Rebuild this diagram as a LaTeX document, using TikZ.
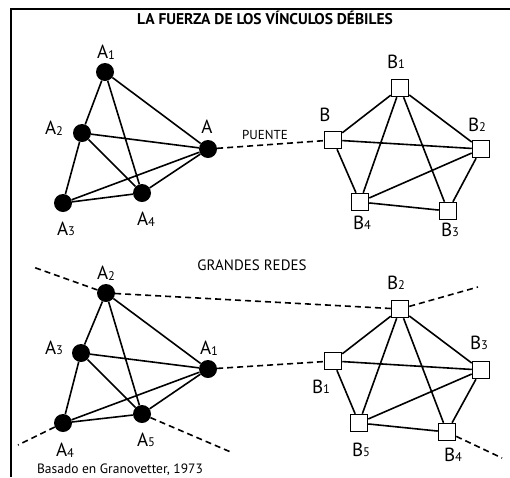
\documentclass[tikz,border=0pt]{standalone}
\usepackage{fontspec}
\setmainfont{PT Sans}
\begin{document}
\begin{tikzpicture}[x=1pt,y=-1pt,
  dotnode/.style={circle,fill=black,inner sep=0pt,minimum size=18pt},
  sqnode/.style={rectangle,draw=black,fill=white,line width=1.5pt,inner sep=0pt,minimum size=17pt},
  edge/.style={line width=1.6pt},
  weak/.style={line width=1.6pt,dash pattern=on 6pt off 4pt},
  lbl/.style={font=\fontsize{19}{19}\selectfont,inner sep=0pt},
  txt/.style={font=\fontsize{13}{13}\selectfont,inner sep=0pt}]
\useasboundingbox (0,0) rectangle (510,477);
\newcommand{\lab}[2]{#1\raisebox{-0.5pt}{\fontsize{12.5}{12.5}\selectfont #2}}
% frame
\coordinate (fl) at (11,477);
\coordinate (fc) at (11,9);
\coordinate (fr) at (510,9);
\draw[line width=2pt] (fl) -- (fc) -- (fr);
\node[font=\fontsize{15.5}{15.5}\selectfont\bfseries,inner sep=0pt] (title) at (265,18) {LA FUERZA DE LOS VÍNCULOS DÉBILES};
% ---------- top
\node[dotnode] (tA1) at (105,72) {};
\node[dotnode] (tA2) at (82,133) {};
\node[dotnode] (tA) at (208,149) {};
\node[dotnode] (tA3) at (63,203) {};
\node[dotnode] (tA4) at (142,193) {};
\draw[edge] (tA1)--(tA2) (tA1)--(tA) (tA1)--(tA4) (tA2)--(tA) (tA2)--(tA4) (tA2)--(tA3)
  (tA3)--(tA) (tA3)--(tA4) (tA4)--(tA);
\node[lbl] (ltA1) at (106,52) {\lab{A}{1}};
\node[lbl] (ltA2) at (54,128) {\lab{A}{2}};
\node[lbl] (ltA) at (207,127) {A};
\node[lbl] (ltA3) at (66,229) {\lab{A}{3}};
\node[lbl] (ltA4) at (146,219) {\lab{A}{4}};
\node[sqnode] (tB) at (333,140) {};
\draw[weak] (tA) -- (tB);
\node[txt] (puente) at (265,135) {PUENTE};
\node[sqnode] (tB1) at (400,88) {};
\node[sqnode] (tB2) at (481,149) {};
\node[sqnode] (tB4) at (360,202) {};
\node[sqnode] (tB3) at (448,211) {};
\draw[edge] (tB)--(tB1) (tB)--(tB2) (tB)--(tB4) (tB1)--(tB2) (tB1)--(tB4) (tB1)--(tB3)
  (tB2)--(tB4) (tB2)--(tB3) (tB4)--(tB3);
\node[lbl] (ltB1) at (396,62) {\lab{B}{1}};
\node[lbl] (ltB) at (325,115) {B};
\node[lbl] (ltB2) at (477,125) {\lab{B}{2}};
\node[lbl] (ltB4) at (362,223) {\lab{B}{4}};
\node[lbl] (ltB3) at (450,230) {\lab{B}{3}};
% ---------- bottom
\node[font=\fontsize{15}{15}\selectfont,inner sep=0pt] (grandes) at (252,265) {GRANDES REDES};
\node[dotnode] (bA2) at (106,293) {};
\node[dotnode] (bA3) at (81,353) {};
\node[dotnode] (bA1) at (208,369) {};
\node[dotnode] (bA4) at (63,423) {};
\node[dotnode] (bA5) at (142,414) {};
\draw[edge] (bA2)--(bA3) (bA2)--(bA1) (bA2)--(bA5) (bA3)--(bA1) (bA3)--(bA5) (bA3)--(bA4)
  (bA4)--(bA1) (bA4)--(bA5) (bA5)--(bA1);
\node[lbl] (lbA2) at (106,273) {\lab{A}{2}};
\node[lbl] (lbA3) at (54,348) {\lab{A}{3}};
\node[lbl] (lbA1) at (209,348) {\lab{A}{1}};
\node[lbl] (lbA4) at (65,450) {\lab{A}{4}};
\node[lbl] (lbA5) at (146,440) {\lab{A}{5}};
\node[sqnode] (bB2) at (400,309) {};
\node[sqnode] (bB1) at (333,361) {};
\node[sqnode] (bB3) at (481,370) {};
\node[sqnode] (bB5) at (359,423) {};
\node[sqnode] (bB4) at (447,432) {};
\coordinate (wA2) at (33,267);
\coordinate (wA4) at (18,445);
\coordinate (wA5) at (233,453);
\coordinate (wB2) at (478,287);
\coordinate (wB4) at (502,458);
\draw[weak] (bA2) -- (wA2);
\draw[weak] (bA4) -- (wA4);
\draw[weak] (bA5) -- (wA5);
\draw[weak] (bA2) -- (bB2);
\draw[weak] (bA1) -- (bB1);
\draw[weak] (bB2) -- (wB2);
\draw[weak] (bB4) -- (wB4);
\draw[edge] (bB1)--(bB2) (bB1)--(bB3) (bB1)--(bB5) (bB2)--(bB3) (bB2)--(bB5) (bB2)--(bB4)
  (bB3)--(bB5) (bB3)--(bB4) (bB5)--(bB4);
\node[lbl] (lbB2) at (396,283) {\lab{B}{2}};
\node[lbl] (lbB1) at (321,387) {\lab{B}{1}};
\node[lbl] (lbB3) at (479,343) {\lab{B}{3}};
\node[lbl] (lbB5) at (361,450) {\lab{B}{5}};
\node[lbl] (lbB4) at (453,455) {\lab{B}{4}};
\node[font=\fontsize{13.5}{13.5}\selectfont,inner sep=0pt] (src) at (120,470) {Basado en Granovetter, 1973};
\end{tikzpicture}
\end{document}
